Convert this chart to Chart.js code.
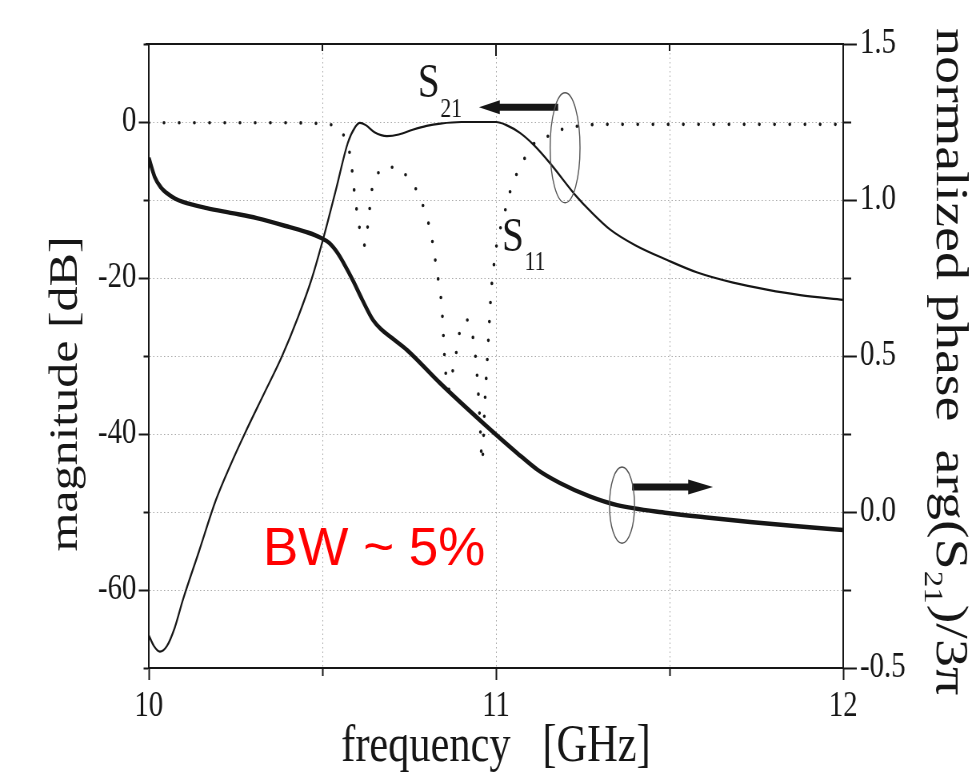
<!DOCTYPE html>
<html>
<head>
<meta charset="utf-8">
<title>S21 / S11 filter response</title>
<script src="https://cdn.jsdelivr.net/npm/chart.js@4.4.1/dist/chart.umd.min.js"></script>
<style>
  html, body { margin: 0; padding: 0; background: #fff; overflow: hidden; }
  #wrap { width: 979px; height: 776px; overflow: hidden; }
  /* the figure is drawn wide and squeezed horizontally, like the scanned plot */
  #plot { display: block; width: 1224px; height: 776px; transform: scaleX(0.8); transform-origin: 0 0; }
</style>
</head>
<body>
<div id="wrap"><canvas id="plot" width="1224" height="776"></canvas></div>
<script>
//S21 magnitude [dB]
var freqS21 = [10.0, 10.015, 10.032, 10.052, 10.075, 10.098, 10.145, 10.193, 10.235, 10.277, 10.33, 10.383, 10.43, 10.47, 10.504, 10.54, 10.573, 10.595, 10.608, 10.625, 10.65, 10.686, 10.72, 10.76, 10.8, 10.84, 10.9, 10.95, 11.0, 11.03, 11.069, 11.11, 11.156, 11.233, 11.271, 11.329, 11.401, 11.493, 11.58, 11.683, 11.78, 11.876, 12.0];
var magS21 = [-65.8, -67.2, -67.9, -67.2, -64.8, -61.3, -55.0, -48.5, -44.0, -39.9, -35.0, -30.1, -25.0, -20.0, -14.7, -8.5, -2.7, -0.6, -0.1, -0.4, -1.3, -1.8, -1.6, -1.0, -0.5, -0.2, 0.0, 0.0, 0.0, -0.4, -1.4, -3.0, -5.3, -9.6, -11.4, -13.8, -15.8, -17.7, -19.3, -20.6, -21.5, -22.2, -22.8];

//S11 magnitude [dB]
var freqS11 = [10.0, 10.2, 10.4, 10.493, 10.52, 10.542, 10.56, 10.573, 10.582, 10.594, 10.608, 10.622, 10.631, 10.643, 10.663, 10.685, 10.709, 10.73, 10.752, 10.781, 10.813, 10.83, 10.844, 10.853, 10.862, 10.873, 10.885, 10.893, 10.914, 10.931, 10.939, 10.948, 10.954, 10.96, 10.968, 10.974, 10.98, 10.986, 10.997, 11.006, 11.02, 11.032, 11.049, 11.075, 11.107, 11.156, 11.199, 11.242, 11.3, 11.6, 12.0];
var magS11 = [-0.1, -0.1, -0.1, -0.2, -0.3, -0.7, -1.6, -2.9, -4.9, -9.7, -13.8, -15.8, -13.2, -8.6, -6.4, -5.8, -5.8, -6.4, -7.4, -9.7, -14.4, -19.2, -23.8, -30.9, -34.4, -32.4, -29.7, -27.4, -25.3, -27.1, -29.2, -34.0, -38.6, -43.6, -35.9, -31.2, -26.4, -21.8, -17.3, -14.7, -12.6, -10.3, -7.8, -5.3, -2.9, -1.7, -0.8, -0.5, -0.3, -0.3, -0.3];

//normalized phase arg(S21)/3pi
var freqPhase = [10.0, 10.017, 10.035, 10.052, 10.075, 10.098, 10.167, 10.24, 10.311, 10.406, 10.46, 10.495, 10.52, 10.545, 10.565, 10.588, 10.615, 10.646, 10.67, 10.7, 10.744, 10.839, 10.963, 11.061, 11.12, 11.184, 11.27, 11.349, 11.493, 11.6, 11.732, 11.86, 12.0];
var phaseS21 = [1.135, 1.074, 1.04, 1.022, 1.005, 0.994, 0.974, 0.958, 0.942, 0.913, 0.895, 0.879, 0.862, 0.828, 0.79, 0.742, 0.68, 0.615, 0.585, 0.558, 0.519, 0.413, 0.285, 0.189, 0.135, 0.093, 0.05, 0.022, -0.003, -0.017, -0.032, -0.045, -0.058];

//tick labels
var freqLabels = [10, 11, 12];
var magLabels = [0, -20, -40, -60];
var phaseLabels = [1.5, 1.0, 0.5, 0.0, -0.5];

var ink = '#161616';
var serif = "'Liberation Serif', 'Times New Roman', serif";

function pairs(xs, ys) {
  return xs.map(function (x, i) { return {x: x, y: ys[i]}; });
}
function has(list, v) {
  return list.some(function (l) { return Math.abs(l - v) < 1e-9; });
}

//callouts, placed in data units
var s21Label = {f: 10.775, db: 3.2};
var s11Label = {f: 11.017, db: -16.5};
var bwLabel = {f: 10.329, db: -56.8};
var magArrow = {from: 11.179, to: 10.951, db: 1.9};
var magRing = {f: 11.199, db: -3.3, rf: 0.043, rdb: 7.05};
var phaseArrow = {from: 11.392, to: 11.625, p: 0.080};
var phaseRing = {f: 11.363, p: 0.022, rf: 0.036, rp: 0.122};

function arrow(c, x0, x1, y, shaft, headLen, headHalf) {
  var dir = x1 > x0 ? 1 : -1;
  c.lineWidth = shaft;
  c.lineCap = 'butt';
  c.beginPath();
  c.moveTo(x0, y);
  c.lineTo(x1 - dir * headLen * 0.7, y);
  c.stroke();
  c.beginPath();
  c.moveTo(x1, y);
  c.lineTo(x1 - dir * headLen, y - headHalf);
  c.lineTo(x1 - dir * headLen, y + headHalf);
  c.closePath();
  c.fill();
}

function ring(c, xs, ys, f, v, rf, rv) {
  var cx = xs.getPixelForValue(f), cy = ys.getPixelForValue(v);
  var rx = Math.abs(xs.getPixelForValue(f + rf) - cx);
  var ry = Math.abs(ys.getPixelForValue(v + rv) - cy);
  c.lineWidth = 1.4;
  c.strokeStyle = '#555';
  c.beginPath();
  c.ellipse(cx, cy, rx, ry, 0, 0, Math.PI * 2);
  c.stroke();
}

function subLabel(c, x, y, main, sub, size, subSize, drop) {
  c.font = size + 'px ' + serif;
  c.fillText(main, x, y);
  var w = c.measureText(main).width;
  c.font = subSize + 'px ' + serif;
  c.fillText(sub, x + w + 1, y + drop);
}

var overlay = {
  id: 'overlay',
  afterDraw: function (chart) {
    var c = chart.ctx, a = chart.chartArea;
    var xs = chart.scales.x, ys = chart.scales.y, ps = chart.scales.y2;
    c.save();

    //top frame line and its inward ticks
    c.strokeStyle = ink;
    c.lineWidth = 2;
    c.beginPath();
    c.moveTo(a.left - 4, a.top);
    c.lineTo(a.right, a.top);
    c.stroke();
    xs.ticks.forEach(function (t) {
      if (t.value <= xs.min || t.value >= xs.max) return;
      var px = xs.getPixelForValue(t.value);
      var len = has(freqLabels, t.value) ? 12 : 7;
      c.beginPath();
      c.moveTo(px, a.top);
      c.lineTo(px, a.top + len);
      c.stroke();
    });

    //curve labels
    c.fillStyle = ink;
    c.textAlign = 'left';
    c.textBaseline = 'alphabetic';
    subLabel(c, xs.getPixelForValue(s21Label.f), ys.getPixelForValue(s21Label.db), 'S', '21', 49, 27, 20);
    subLabel(c, xs.getPixelForValue(s11Label.f), ys.getPixelForValue(s11Label.db), 'S', '11', 49, 27, 19);

    //arrows pointing to the axis each curve belongs to
    c.strokeStyle = ink;
    c.fillStyle = ink;
    arrow(c, xs.getPixelForValue(magArrow.from), xs.getPixelForValue(magArrow.to), ys.getPixelForValue(magArrow.db), 7, 26, 7);
    arrow(c, xs.getPixelForValue(phaseArrow.from), xs.getPixelForValue(phaseArrow.to), ps.getPixelForValue(phaseArrow.p), 7, 31, 7.5);
    ring(c, xs, ys, magRing.f, magRing.db, magRing.rf, magRing.rdb);
    ring(c, xs, ps, phaseRing.f, phaseRing.p, phaseRing.rf, phaseRing.rp);

    //bandwidth note, drawn at natural width
    c.save();
    c.translate(xs.getPixelForValue(bwLabel.f), ys.getPixelForValue(bwLabel.db));
    c.scale(1.25, 1);
    c.fillStyle = '#ff0000';
    c.font = "53px 'Liberation Sans', Arial, sans-serif";
    c.fillText('BW ~ 5%', 0, 0);
    c.restore();

    //left axis title
    c.fillStyle = ink;
    c.save();
    c.translate(a.left - 90, (a.top + a.bottom) / 2 + 38);
    c.rotate(-Math.PI / 2);
    c.textAlign = 'center';
    c.font = '50px ' + serif;
    c.fillText('magnitude [dB]', 0, 0);
    c.restore();

    //right axis title, read top to bottom
    c.save();
    c.translate(a.right + 117, 28);
    c.rotate(Math.PI / 2);
    c.textAlign = 'left';
    var x = 0;
    c.font = '56px ' + serif;
    c.fillText('normalized phase  arg(S', x, 0);
    x += c.measureText('normalized phase  arg(S').width + 1;
    c.font = '33px ' + serif;
    c.fillText('21', x, 15);
    x += c.measureText('21').width + 1;
    c.font = '56px ' + serif;
    c.fillText(')/3\u03c0', x, 0);
    c.restore();

    c.restore();
  }
};

var tickFont = {family: serif, size: 36};
var gridGray = '#a9a9a9';

var ctx = document.getElementById('plot').getContext('2d');
var myChart = new Chart(ctx, {
  type: 'line',
  data: {
    datasets: [{
      label: 'S21',
      data: pairs(freqS21, magS21),
      yAxisID: 'y',
      borderColor: ink,
      borderWidth: 2.2,
      pointRadius: 0,
      cubicInterpolationMode: 'monotone',
      fill: false
    }, {
      label: 'S11',
      data: pairs(freqS11, magS11),
      yAxisID: 'y',
      borderColor: ink,
      borderWidth: 3.6,
      borderDash: [0, 19],
      borderCapStyle: 'round',
      pointRadius: 0,
      cubicInterpolationMode: 'monotone',
      fill: false
    }, {
      label: 'arg(S21)/3pi',
      data: pairs(freqPhase, phaseS21),
      yAxisID: 'y2',
      borderColor: ink,
      borderWidth: 4.5,
      pointRadius: 0,
      cubicInterpolationMode: 'monotone',
      fill: false
    }]
  },
  options: {
    responsive: false,
    animation: false,
    devicePixelRatio: 1,
    layout: {padding: {top: 44, left: 0, right: 0, bottom: 0}},
    plugins: {legend: {display: false}, tooltip: {enabled: false}},
    scales: {
      x: {
        type: 'linear',
        position: 'bottom',
        min: 10,
        max: 12,
        afterFit: function (s) { s.height = 108; },
        ticks: {
          stepSize: 0.5,
          autoSkip: false,
          maxRotation: 0,
          padding: 5,
          color: ink,
          font: tickFont,
          callback: function (v) { return has(freqLabels, v) ? String(v) : ''; }
        },
        grid: {
          color: gridGray,
          lineWidth: 1,
          tickLength: 12,
          tickColor: ink,
          tickWidth: 2,
          tickBorderDash: function (c) { return has(freqLabels, c.tick.value) ? [] : [7, 100]; }
        },
        border: {color: ink, width: 2, dash: [1.5, 3]},
        title: {
          display: true,
          text: 'frequency   [GHz]',
          color: ink,
          font: {family: serif, size: 53, lineHeight: 1.1},
          padding: {top: 0, bottom: 0}
        }
      },
      y: {
        type: 'linear',
        position: 'left',
        min: -70,
        max: 10,
        afterFit: function (s) { s.width = 186; },
        ticks: {
          stepSize: 10,
          padding: 3,
          color: ink,
          font: tickFont,
          callback: function (v) { return has(magLabels, v) ? String(v) : ''; }
        },
        grid: {
          color: gridGray,
          lineWidth: 1,
          tickLength: 12.5,
          tickColor: ink,
          tickWidth: 2,
          tickBorderDash: function (c) { return has(magLabels, c.tick.value) ? [] : [0, 6, 6.5, 100]; }
        },
        border: {color: ink, width: 2, dash: [1.5, 3]}
      },
      y2: {
        type: 'linear',
        position: 'right',
        min: -0.5,
        max: 1.5,
        afterFit: function (s) { s.width = 170; },
        ticks: {
          stepSize: 0.25,
          padding: 4,
          color: ink,
          font: tickFont,
          callback: function (v) { return has(phaseLabels, v) ? v.toFixed(1) : ''; }
        },
        grid: {
          drawOnChartArea: false,
          tickLength: 17,
          tickColor: ink,
          tickWidth: 2,
          tickBorderDash: function (c) { return has(phaseLabels, c.tick.value) ? [] : [9, 100]; }
        },
        border: {color: ink, width: 2}
      }
    }
  },
  plugins: [overlay]
});
</script>
</body>
</html>
